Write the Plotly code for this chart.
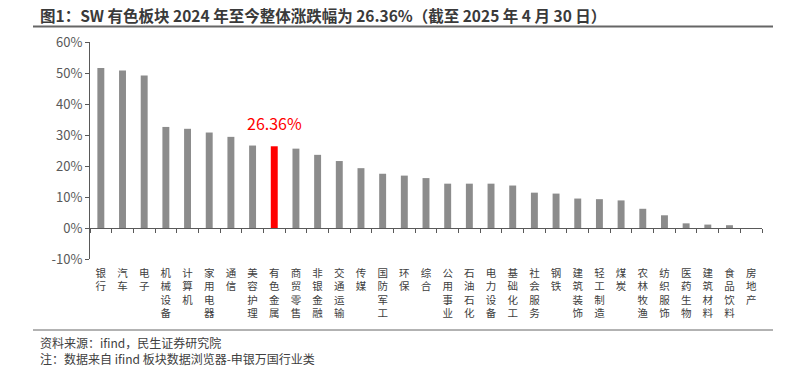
import plotly.graph_objects as go

categories = ["银行", "汽车", "电子", "机械设备", "计算机", "家用电器", "通信", "美容护理", "有色金属",
              "商贸零售", "非银金融", "交通运输", "传媒", "国防军工", "环保", "综合", "公用事业", "石油石化",
              "电力设备", "基础化工", "社会服务", "钢铁", "建筑装饰", "轻工制造", "煤炭", "农林牧渔",
              "纺织服饰", "医药生物", "建筑材料", "食品饮料", "房地产"]
values = [51.6, 50.8, 49.2, 32.6, 32.0, 30.8, 29.4, 26.6, 26.36,
          25.6, 23.6, 21.6, 19.3, 17.5, 16.9, 16.1, 14.3, 14.3,
          14.3, 13.7, 11.4, 11.1, 9.5, 9.3, 8.9, 6.2,
          4.1, 1.5, 1.1, 0.9, -0.3]
highlight = "有色金属"
y_ticks = [-10, 0, 10, 20, 30, 40, 50, 60]
y_ticktext = ["-10%", "0%", "10%", "20%", "30%", "40%", "50%", "60%"]

W, H = 795, 367
L, R, T, B = 90, 762, 42, 259
pw, ph = R - L, B - T

def px(x):
    return (x - L) / pw

def py(y):
    return (B - y) / ph

colors = ["#ff0000" if c == highlight else "#8c8c8c" for c in categories]
ticktext = ["<br>".join(list(c)) for c in categories]

fig = go.Figure()
fig.add_trace(go.Bar(x=categories, y=values, marker=dict(color=colors, line=dict(width=0)),
                     width=0.32, showlegend=False))

ymin, ymax = y_ticks[0], y_ticks[-1]
hi_idx = categories.index(highlight)
fig.add_annotation(x=categories[hi_idx], y=values[hi_idx], text=f"{values[hi_idx]:.2f}%",
                   showarrow=False, yanchor="bottom", yshift=9,
                   font=dict(color="#ff0000", size=16, family="Noto Sans CJK SC"))

fig.update_layout(
    width=W, height=H,
    margin=dict(l=L, r=W - R, t=T, b=H - B),
    paper_bgcolor="white", plot_bgcolor="white",
    font=dict(family="Noto Sans CJK SC", color="#595959", size=12),
    bargap=0.68,
    xaxis=dict(type="category", categoryorder="array", categoryarray=categories,
               tickvals=categories, ticktext=ticktext, showline=False, ticks="",
               showgrid=False, zeroline=False, range=[-0.5, len(categories) - 0.5],
               tickfont=dict(size=10.5, color="#404040"), ticklabelstandoff=6),
    xaxis2=dict(overlaying="x", anchor="free", position=(0 - ymin) / (ymax - ymin),
                range=[-0.5, len(categories) - 0.5], tickvals=[i - 0.5 for i in range(len(categories) + 1)],
                showticklabels=False, ticks="outside", ticklen=4, tickcolor="#595959",
                showline=True, linecolor="#595959", linewidth=1, showgrid=False, zeroline=False),
    yaxis=dict(range=[ymin, ymax], tickvals=y_ticks, ticktext=y_ticktext, showline=True,
               linecolor="#595959", linewidth=1, ticks="outside", ticklen=4, tickcolor="#595959",
               showgrid=False, zeroline=False, tickfont=dict(size=13, color="#595959")),
)
# invisible trace so xaxis2 renders
fig.add_trace(go.Scatter(x=[0], y=[0], xaxis="x2", mode="markers", marker=dict(opacity=0),
                         showlegend=False, hoverinfo="skip"))

fig.add_annotation(xref="paper", yref="paper", x=px(38), y=py(15), xanchor="left", yanchor="middle",
                   text="<b>图1：SW 有色板块 2024 年至今整体涨跌幅为 26.36%（截至 2025 年 4 月 30 日）</b>",
                   showarrow=False, font=dict(size=15.5, color="#3a3a3a", family="Noto Sans CJK SC"))
fig.add_shape(type="line", xref="paper", yref="paper", x0=px(33), x1=px(773), y0=py(26.5), y1=py(26.5),
              line=dict(color="#666666", width=2))
fig.add_shape(type="line", xref="paper", yref="paper", x0=px(33), x1=px(773), y0=py(330), y1=py(330),
              line=dict(color="#666666", width=1))
fig.add_annotation(xref="paper", yref="paper", x=px(38), y=py(350), xanchor="left", yanchor="middle",
                   align="left",
                   text="资料来源：ifind，民生证券研究院<br>注：数据来自 ifind 板块数据浏览器-申银万国行业类",
                   showarrow=False, font=dict(size=12, color="#404040", family="Noto Sans CJK SC"))

fig.write_html("out.html", config={"displayModeBar": False},
               post_script="document.body.style.margin='0';document.body.style.overflow='hidden';")
